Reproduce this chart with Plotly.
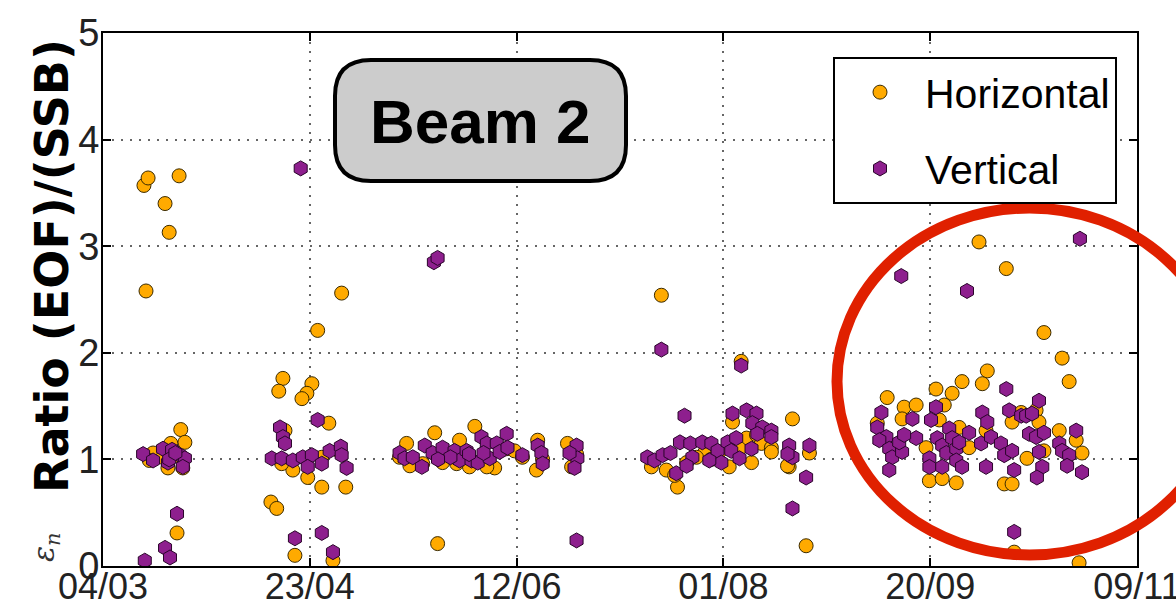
import pandas as pd
import plotly.graph_objects as go

# ---------------- data ----------------
START = "2012-03-04"

# Horizontal emittance ratio: day offset from 04/03, ratio
h_days = [9.9, 10.9, 18.4, 15.0, 16.0, 10.4, 18.8, 19.8, 16.4, 12.1, 17.9, 15.7, 19.3, 11.2, 14.5, 17.0,
          43.5, 42.5, 50.5, 49.3, 48.1, 51.9, 57.7, 54.6, 44.0, 40.6, 42.0, 46.4, 55.6, 52.9, 58.7, 45.9,
          43.2, 49.5, 52.9, 57.5,
          73.4, 80.2, 89.9, 80.9, 82.1, 77.3, 86.2, 88.6, 94.7, 97.6, 99.5, 104.8, 105.1, 112.3, 113.3,
          74.2, 92.8, 85.5, 71.7, 101.4, 106.3, 114.5,
          135.0, 154.3, 166.7, 170.8, 170.0, 138.9, 165.9, 132.6, 136.2, 138.2, 151.4, 156.8, 155.6, 158.0,
          159.2, 161.6, 161.6, 152.2, 165.5, 153.9, 145.4, 149.0, 141.1, 143.5, 147.0,
          211.8, 218.4, 227.5, 231.9, 233.6, 213.8, 212.6, 207.7, 201.4, 205.3, 189.6, 220.3, 236.0, 236.7,
          235.3, 231.2, 193.7, 196.6, 193.2, 187.2, 203.4, 202.2, 207.0, 199.0, 199.8, 202.9, 206.3, 209.4,
          217.9, 219.8, 223.4, 222.0, 219.8, 225.6, 226.3, 227.5, 213.5]
h_ratio = [3.57, 3.64, 3.66, 3.40, 3.13, 2.58, 1.28, 1.16, 1.15, 1.06, 0.31, 0.92, 0.92, 0.99, 1.02, 1.03,
           1.76, 1.64, 1.71, 1.62, 1.57, 2.21, 2.56, 1.34, 1.27, 0.60, 0.54, 0.10, 0.05, 0.74, 0.74, 0.90,
           0.96, 0.83, 1.02, 1.06,
           1.15, 1.25, 1.31, 0.21, 0.97, 0.96, 1.18, 0.93, 0.92, 1.10, 1.08, 0.90, 1.18, 1.15, 0.93,
           0.94, 0.93, 0.96, 1.02, 1.02, 1.00, 1.05,
           2.54, 1.92, 1.38, 1.06, 0.19, 0.74, 0.93, 0.93, 0.90, 0.85, 0.93, 0.97, 1.20, 1.23,
           1.15, 1.11, 1.07, 1.35, 0.94, 1.10, 1.06, 1.07, 0.97, 1.02, 1.00,
           3.04, 2.79, 2.19, 1.95, 1.73, 1.83, 1.71, 1.73, 1.66, 1.62, 1.58, 0.13, 0.03, 1.06,
           1.18, 1.27, 1.49, 1.51, 1.38, 1.34, 1.51, 1.37, 1.30, 1.11, 0.80, 0.82, 0.78, 1.11,
           0.77, 0.77, 1.01, 1.44, 1.35, 1.46, 1.35, 1.08, 1.27]

# Vertical emittance ratio: day offset from 04/03, ratio
v_days = [9.7, 12.1, 14.5, 16.7, 15.7, 18.6, 19.8, 19.3, 17.9, 15.0, 16.2, 10.1, 16.0, 17.5,
          47.8, 42.8, 43.5, 44.0, 40.8, 43.2, 45.9, 48.3, 50.5, 49.5, 51.9, 52.9, 54.8, 57.5, 57.7, 58.9,
          46.4, 52.9, 55.6,
          71.7, 72.9, 74.9, 77.1, 77.8, 79.7, 82.1, 85.0, 86.2, 87.9, 89.1, 90.6, 91.5, 92.8, 93.5, 95.2,
          95.9, 97.6, 97.8, 101.4, 105.1, 106.0, 106.3, 114.5, 114.7, 114.0, 112.8, 114.5, 80.0, 80.9,
          84.0, 88.5, 92.0, 81.0,
          135.0, 154.3, 140.6, 170.8, 170.0, 166.7, 138.6, 165.9, 166.7, 152.2, 155.6, 158.0, 157.0, 159.4,
          161.6, 161.6, 131.6, 133.3, 135.3, 137.2, 139.5, 142.0, 142.5, 144.9, 147.1, 148.6, 149.5, 151.0,
          151.9, 153.1, 153.9, 156.8, 158.2, 141.1, 146.6, 165.5,
          236.2, 193.0, 208.9, 218.4, 220.3, 236.7, 235.3, 188.2, 187.2, 189.4, 187.7, 190.1, 190.8, 190.1,
          193.2, 192.5, 195.7, 196.6, 193.7, 201.4, 200.2, 199.8, 199.8, 201.7, 202.9, 203.9, 204.6, 205.3,
          206.3, 207.0, 206.3, 207.7, 202.9, 209.4, 212.3, 212.6, 213.8, 214.7, 213.5, 217.1, 217.9, 219.8,
          219.1, 220.3, 222.0, 223.2, 224.6, 226.3, 223.9, 225.6, 227.5, 226.3, 227.1, 225.8, 231.2, 231.9,
          233.6, 233.1]
v_ratio = [1.05, 0.99, 1.10, 1.09, 0.97, 1.04, 1.01, 0.93, 0.49, 0.17, 0.08, 0.05, 1.00, 1.06,
           3.73, 1.30, 1.21, 1.15, 1.01, 1.01, 0.99, 1.02, 1.04, 0.93, 1.37, 0.96, 1.08, 1.12, 1.04, 0.92,
           0.26, 0.31, 0.13,
           1.06, 1.01, 1.02, 0.93, 1.13, 1.06, 1.11, 1.08, 0.99, 1.08, 0.99, 0.97, 1.21, 1.15, 1.01, 1.15,
           1.07, 1.24, 1.11, 1.04, 1.13, 1.06, 0.96, 1.13, 1.01, 0.92, 1.06, 0.24, 2.85, 2.89,
           1.02, 1.05, 1.06, 1.00,
           2.03, 1.88, 1.41, 1.13, 0.83, 0.54, 0.87, 1.13, 1.02, 1.43, 1.46, 1.43, 1.34, 1.30,
           1.27, 1.21, 1.02, 0.99, 1.04, 1.06, 1.16, 1.15, 1.02, 1.16, 1.15, 1.08, 0.97, 1.16,
           1.08, 1.20, 1.01, 1.10, 1.24, 0.94, 0.99, 1.05,
           3.07, 2.72, 2.58, 1.66, 0.32, 0.88, 1.27, 1.44, 1.30, 1.21, 1.18, 1.10, 1.02, 0.90,
           1.07, 1.16, 1.38, 1.20, 1.23, 1.49, 1.37, 1.01, 0.93, 1.20, 1.13, 1.06, 1.29, 1.20,
           1.10, 1.16, 0.99, 0.93, 0.93, 1.25, 1.15, 1.44, 1.35, 1.21, 0.93, 1.15, 1.04, 1.08,
           1.46, 0.90, 1.41, 1.41, 1.43, 1.55, 1.24, 1.21, 1.25, 1.07, 0.93, 0.83, 1.15, 1.08,
           1.04, 0.94]

x_range = ["2012-03-04", "2012-11-09"]
series_names = ["Horizontal", "Vertical"]

base = pd.Timestamp(START)
h_x = base + pd.to_timedelta(h_days, unit="D")
v_x = base + pd.to_timedelta(v_days, unit="D")

# ---------------- layout helpers ----------------
W, H = 1176, 613
L, R, T, B = 103, 1137, 33, 566


def px(xp):
    return (xp - L) / (R - L)


def py(yp):
    return (B - yp) / (B - T)


TICKFONT = "Liberation Sans, Arial, sans-serif"

fig = go.Figure()
fig.add_trace(go.Scatter(
    x=h_x, y=h_ratio, mode="markers", name=series_names[0], legendgroup="h",
    marker=dict(symbol="circle", size=14, color="#FFAA00",
                line=dict(color="#3a2a00", width=1)),
))
fig.add_trace(go.Scatter(
    x=v_x, y=v_ratio, mode="markers", name=series_names[1], legendgroup="v",
    marker=dict(symbol="hexagon", size=15, color="#8E1F8E",
                line=dict(color="#2a052a", width=1)),
))

# rounded "Beam 2" box
bx0, bx1, by0, by1, rr = 335, 626, 60, 181, 36


def P(a, b):
    return f"{px(a):.5f},{py(b):.5f}"


path = (f"M {P(bx0 + rr, by0)} L {P(bx1 - rr, by0)} Q {P(bx1, by0)} {P(bx1, by0 + rr)} "
        f"L {P(bx1, by1 - rr)} Q {P(bx1, by1)} {P(bx1 - rr, by1)} "
        f"L {P(bx0 + rr, by1)} Q {P(bx0, by1)} {P(bx0, by1 - rr)} "
        f"L {P(bx0, by0 + rr)} Q {P(bx0, by0)} {P(bx0 + rr, by0)} Z")

axis_common = dict(
    showgrid=True, gridcolor="#666", gridwidth=1.5, griddash="2px,7px",
    showline=True, linecolor="black", linewidth=2, mirror="ticks",
    ticks="inside", ticklen=8, tickcolor="black", tickwidth=1.5,
    zeroline=False, automargin=False, ticklabeloverflow="allow",
)

fig.update_layout(
    width=W, height=H, autosize=False,
    margin=dict(l=L, r=W - R, t=T, b=H - B),
    paper_bgcolor="white", plot_bgcolor="white",
    showlegend=True,
    legend=dict(
        x=px(1117), y=py(57), xanchor="right", yanchor="top",
        bgcolor="white", bordercolor="black", borderwidth=2,
        font=dict(family=TICKFONT, size=41, color="black"),
        itemsizing="trace", itemwidth=80, tracegroupgap=20,
    ),
    xaxis=dict(type="date", range=x_range, tick0=x_range[0], dtick=50 * 86400000,
               tickformat="%d/%m", ticklabelstandoff=-12,
               tickfont=dict(family=TICKFONT, size=36, color="#222"), **axis_common),
    yaxis=dict(range=[0, 5], dtick=1, ticklabelstandoff=-6,
               tickfont=dict(family=TICKFONT, size=38, color="#222"), **axis_common),
    shapes=[
        dict(type="path", xref="paper", yref="paper", path=path,
             fillcolor="#CCCCCC", line=dict(color="black", width=4), layer="above"),
        dict(type="circle", xref="paper", yref="paper",
             x0=px(837), x1=px(1222), y0=py(555), y1=py(208),
             line=dict(color="#E02000", width=11), layer="above"),
    ],
    annotations=[
        dict(text="<b>Beam 2</b>", xref="paper", yref="paper",
             x=px(480.5), y=py(121), xanchor="center", yanchor="middle", showarrow=False,
             font=dict(family="Liberation Sans, Arial, Helvetica, sans-serif", size=62, color="black")),
        dict(text="<b>Ratio (EOF)/(SSB)</b>", xref="paper", yref="paper",
             x=px(52), y=py(266), xanchor="center", yanchor="middle", showarrow=False,
             textangle=-90,
             font=dict(family="DejaVu Sans, sans-serif", size=46, color="black")),
        dict(text="<i>ε<sub>n</sub></i>", xref="paper", yref="paper",
             x=px(45), y=py(547), xanchor="center", yanchor="middle", showarrow=False,
             textangle=-90,
             font=dict(family="DejaVu Serif, serif", size=30, color="#333")),
    ],
)

fig.write_html("out.html")
